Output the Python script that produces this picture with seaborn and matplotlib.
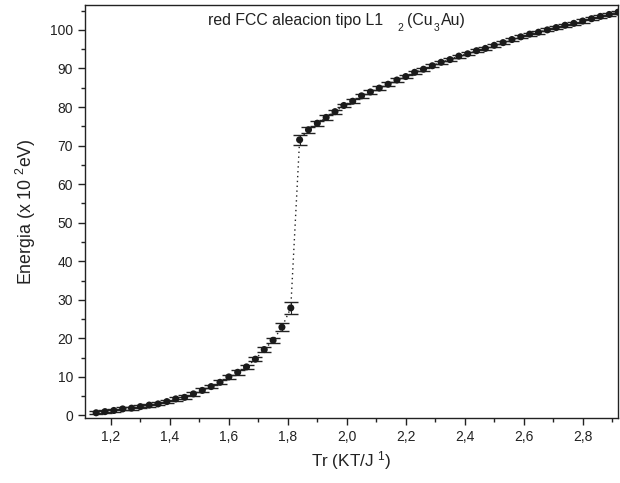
import matplotlib
matplotlib.use("Agg")
import matplotlib.pyplot as plt
import seaborn as sns
import pandas as pd
from matplotlib.ticker import MultipleLocator, FuncFormatter

tr = [1.15, 1.18, 1.21, 1.24, 1.27, 1.30, 1.33, 1.36, 1.39, 1.42, 1.45, 1.48,
      1.51, 1.54, 1.57, 1.60, 1.63, 1.66, 1.69, 1.72, 1.75, 1.78, 1.81,
      1.84, 1.87, 1.90, 1.93, 1.96, 1.99, 2.02, 2.05, 2.08, 2.11, 2.14, 2.17,
      2.20, 2.23, 2.26, 2.29, 2.32, 2.35, 2.38, 2.41, 2.44, 2.47, 2.50, 2.53,
      2.56, 2.59, 2.62, 2.65, 2.68, 2.71, 2.74, 2.77, 2.80, 2.83, 2.86, 2.89, 2.92]
energia = [0.7, 1.0, 1.3, 1.7, 1.9, 2.3, 2.7, 3.0, 3.6, 4.3, 4.7, 5.6,
           6.5, 7.5, 8.6, 10.0, 11.2, 12.6, 14.6, 17.1, 19.5, 22.9, 27.9,
           71.5, 74.1, 75.8, 77.3, 78.8, 80.4, 81.5, 82.9, 83.9, 84.9, 85.9, 87.0,
           87.9, 89.0, 89.8, 90.7, 91.6, 92.3, 93.2, 93.8, 94.6, 95.2, 96.0, 96.7,
           97.5, 98.2, 98.9, 99.4, 100.0, 100.6, 101.2, 101.7, 102.3, 102.9, 103.5, 104.0, 104.6]
error = [0.4, 0.4, 0.4, 0.4, 0.4, 0.4, 0.4, 0.4, 0.4, 0.5, 0.5, 0.5,
         0.5, 0.5, 0.5, 0.6, 0.6, 0.6, 0.6, 0.6, 0.6, 1.0, 1.5,
         1.3, 0.8, 0.7, 0.6, 0.5, 0.5, 0.5, 0.5, 0.5, 0.5, 0.5, 0.5,
         0.4, 0.4, 0.4, 0.4, 0.4, 0.4, 0.4, 0.4, 0.4, 0.4, 0.4, 0.4,
         0.4, 0.4, 0.4, 0.4, 0.4, 0.4, 0.4, 0.4, 0.4, 0.4, 0.4, 0.4, 0.4]

df = pd.DataFrame({"tr": tr, "energia": energia, "error": error})

sns.set_style("ticks")
plt.rcParams["font.family"] = ["Liberation Sans", "DejaVu Sans"]
plt.rcParams["mathtext.fontset"] = "custom"
plt.rcParams["mathtext.rm"] = "Liberation Sans"
plt.rcParams["mathtext.it"] = "Liberation Sans:italic"
plt.rcParams["mathtext.bf"] = "Liberation Sans:bold"

W, H = 620, 483
fig = plt.figure(figsize=(6.2, 4.83), dpi=100)
ax = fig.add_axes([0.137, 0.135, 0.859, 0.855])

sns.lineplot(data=df, x="tr", y="energia", ax=ax, color="#222222",
             linestyle=(0, (1, 2.5)), linewidth=1.0, sort=False)
ax.errorbar(df["tr"], df["energia"], yerr=df["error"], fmt="none",
            ecolor="#222222", elinewidth=0.8, capsize=5, capthick=1.0, zorder=3)
sns.scatterplot(data=df, x="tr", y="energia", ax=ax, color="#1a1a1a",
                s=26, edgecolor="none", zorder=4)

ax.set_xlim(1.112, 2.918)
ax.set_ylim(-0.6, 106.5)
ax.xaxis.set_major_locator(MultipleLocator(0.2))
ax.xaxis.set_minor_locator(MultipleLocator(0.1))
ax.yaxis.set_major_locator(MultipleLocator(10))
ax.yaxis.set_minor_locator(MultipleLocator(5))
ax.xaxis.set_major_formatter(FuncFormatter(lambda v, p: f"{v:.1f}".replace(".", ",")))
ax.yaxis.set_major_formatter(FuncFormatter(lambda v, p: f"{v:.0f}"))
ax.tick_params(axis="both", which="major", direction="out", length=5, width=1,
               labelsize=10, colors="#222222")
ax.tick_params(axis="both", which="minor", direction="out", length=3, width=1,
               colors="#222222")
for s in ax.spines.values():
    s.set_linewidth(1.0)
    s.set_color("#222222")

ax.set_xlabel("Tr (KT/J $^{1}$)", fontsize=12.3, color="#222222", labelpad=4)
ax.set_ylabel("Energia (x 10 $^{2}$eV)", fontsize=12.8, color="#222222", labelpad=9)

def ftext(px, py, s, size):
    fig.text(px / W, 1 - py / H, s, fontsize=size, color="#222222",
             ha="left", va="baseline")

ftext(208, 25, "red FCC aleacion tipo L1", 11.4)
ftext(397, 31, "2", 7.5)
ftext(407, 25, "(Cu", 11.4)
ftext(434, 31, "3", 7.5)
ftext(441, 25, "Au)", 11.4)

fig.savefig("out.png", dpi=100)
